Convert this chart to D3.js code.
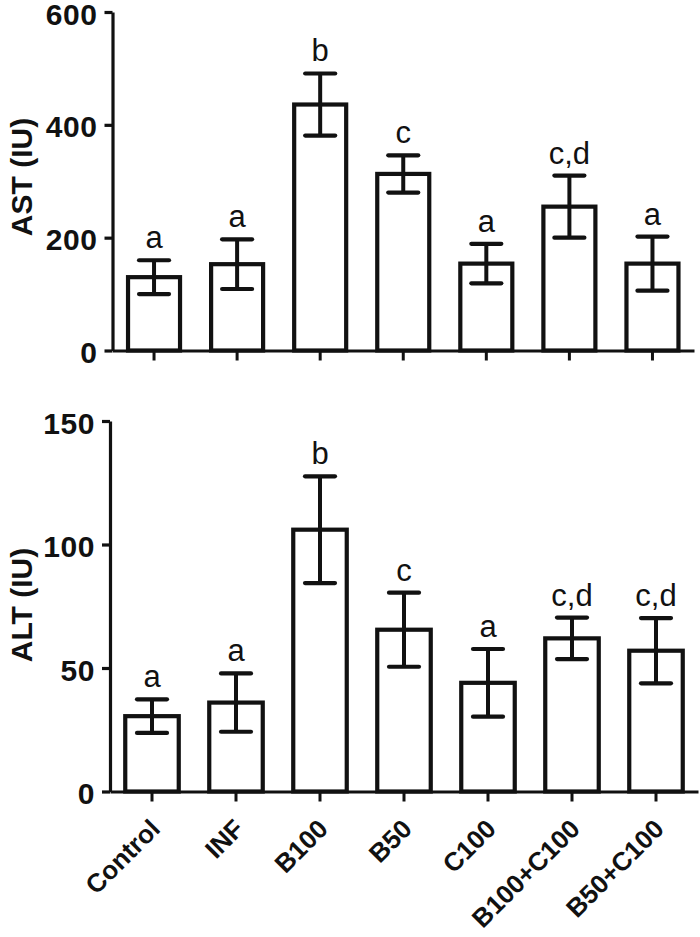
<!DOCTYPE html>
<html>
<head>
<meta charset="utf-8">
<script src="https://cdn.jsdelivr.net/npm/d3@7"></script>
<style>
  html, body { margin: 0; padding: 0; background: #fff; }
  svg { display: block; }
  text { font-family: "Liberation Sans", Arial, Helvetica, sans-serif; fill: #111; }
</style>
</head>
<body>
<svg id="chart" width="700" height="937"></svg>
<script>
// ---- data ----
const categories = ["Control", "INF", "B100", "B50", "C100", "B100+C100", "B50+C100"];
const astMean = [130, 153, 436, 313, 154, 255, 154];
const astErr = [30, 44, 55, 33, 35, 55, 48];
const astLetters = ["a", "a", "b", "c", "a", "c,d", "a"];
const altMean = [30.5, 36, 106, 65.5, 44, 62, 57];
const altErr = [6.8, 11.8, 21.6, 15, 13.7, 8.4, 13.2];
const altLetters = ["a", "a", "b", "c", "a", "c,d", "c,d"];
const astTicks = [0, 200, 400, 600];
const altTicks = [0, 50, 100, 150];

const svg = d3.select("#chart");
const ink = "#111";

function panel(opts) {
  const { mean, err, letters, ticks, yMax, title, x0, x1, y0, y1, bw, titleY, showLabels } = opts;
  const step = (x1 - x0) / categories.length;
  const pin = 1 - bw / step;
  const x = d3.scaleBand().domain(categories).range([x0, x1])
    .paddingInner(pin).paddingOuter(pin / 2);
  const y = d3.scaleLinear().domain([0, yMax]).range([y0, y1]);
  const g = svg.append("g");
  const data = categories.map((c, i) => ({ c, m: mean[i], e: err[i], l: letters[i] }));

  // bars
  g.selectAll("rect.bar").data(data).join("rect")
    .attr("class", "bar")
    .attr("x", d => x(d.c))
    .attr("width", x.bandwidth())
    .attr("y", d => y(d.m))
    .attr("height", d => y(0) - y(d.m))
    .attr("fill", "#fff").attr("stroke", ink).attr("stroke-width", 4.2);

  // error bars
  const cx = d => x(d.c) + x.bandwidth() / 2;
  const capW = 15;
  const eb = g.selectAll("g.eb").data(data).join("g").attr("class", "eb");
  eb.append("line")
    .attr("x1", cx).attr("x2", cx)
    .attr("y1", d => y(d.m - d.e)).attr("y2", d => y(d.m + d.e))
    .attr("stroke", ink).attr("stroke-width", 4);
  eb.append("line")
    .attr("x1", d => cx(d) - capW).attr("x2", d => cx(d) + capW)
    .attr("y1", d => y(d.m + d.e)).attr("y2", d => y(d.m + d.e))
    .attr("stroke", ink).attr("stroke-width", 4.2).attr("stroke-linecap", "round");
  eb.append("line")
    .attr("x1", d => cx(d) - capW).attr("x2", d => cx(d) + capW)
    .attr("y1", d => y(d.m - d.e)).attr("y2", d => y(d.m - d.e))
    .attr("stroke", ink).attr("stroke-width", 4.2).attr("stroke-linecap", "round");

  // significance letters
  g.selectAll("text.sig").data(data).join("text")
    .attr("class", "sig")
    .attr("x", cx)
    .attr("y", d => y(d.m + d.e) - 12)
    .attr("text-anchor", "middle")
    .style("font-size", "31px")
    .text(d => d.l);

  // y axis
  const ya = g.append("g").attr("transform", `translate(${x0},0)`)
    .call(d3.axisLeft(y).tickValues(ticks).tickSize(8).tickSizeOuter(0).tickPadding(7));
  ya.select(".domain").attr("stroke", ink).attr("stroke-width", 3.2);
  ya.selectAll(".tick line").attr("stroke", ink).attr("stroke-width", 3.2);
  ya.selectAll(".tick text")
    .style("font-size", "30px").style("font-weight", "bold")
    .style("letter-spacing", "0.6px")
    .attr("fill", ink).attr("dy", "0.4em");

  // x axis
  const xa = g.append("g").attr("transform", `translate(0,${y0})`)
    .call(d3.axisBottom(x).tickSize(10).tickSizeOuter(0));
  xa.select(".domain").attr("stroke", ink).attr("stroke-width", 3.2);
  xa.selectAll(".tick line").attr("stroke", ink).attr("stroke-width", 3);
  if (showLabels) {
    xa.selectAll(".tick text")
      .attr("fill", ink)
      .style("font-size", "26px").style("font-weight", "bold")
      .attr("text-anchor", "end")
      .attr("x", 0).attr("y", 0).attr("dy", 0)
      .attr("transform", "translate(9.5,39) rotate(-45)");
  } else {
    xa.selectAll(".tick text").remove();
  }

  // y title
  g.append("text")
    .attr("transform", `translate(31.5,${titleY}) rotate(-90)`)
    .attr("text-anchor", "middle")
    .style("font-size", "30px").style("font-weight", "bold")
    .text(title);
}

panel({ mean: astMean, err: astErr, letters: astLetters, ticks: astTicks, yMax: 600,
  title: "AST (IU)", x0: 112.5, x1: 694, y0: 350.5, y1: 12, bw: 52, titleY: 177, showLabels: false });
panel({ mean: altMean, err: altErr, letters: altLetters, ticks: altTicks, yMax: 150,
  title: "ALT (IU)", x0: 110, x1: 698, y0: 791.5, y1: 421, bw: 53.5, titleY: 605, showLabels: true });
</script>
</body>
</html>
